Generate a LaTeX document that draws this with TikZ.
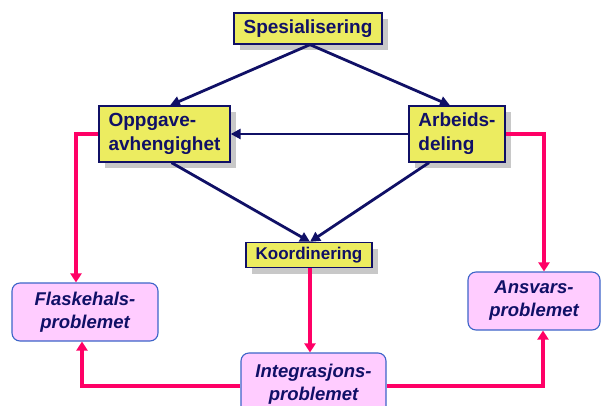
\documentclass[tikz,border=0pt]{standalone}
\usepackage{fontspec}
\setmainfont{Liberation Sans}
\usetikzlibrary{arrows.meta,shadows,calc}
\definecolor{navy}{RGB}{16,16,102}
\definecolor{boxyellow}{RGB}{236,236,96}
\definecolor{shadowgray}{RGB}{200,200,200}
\definecolor{pinkfill}{RGB}{255,204,255}
\definecolor{pinkline}{RGB}{255,0,102}
\definecolor{blueedge}{RGB}{60,100,200}
\tikzset{
  ybox/.style={draw=navy, line width=1.3pt, fill=boxyellow, text=navy,
    font=\bfseries, inner sep=0pt,
    drop shadow={shadow xshift=6pt, shadow yshift=-6pt, fill=shadowgray, opacity=1}},
  pbox/.style={draw=blueedge, line width=1.1pt, fill=pinkfill, text=navy,
    font=\bfseries\itshape\fontsize{18.5}{23}\selectfont, rounded corners=8pt,
    align=center, inner sep=0pt},
  darrow/.style={draw=navy, line width=2.8pt, -{Triangle[length=10pt,width=10pt]}},
  parrow/.style={draw=pinkline, line width=3.2pt, -{Triangle[length=9pt,width=11pt]}}
}
\begin{document}
\begin{tikzpicture}[x=1pt,y=-1pt]
\useasboundingbox (0,0) rectangle (603,405);

% yellow boxes
\node[ybox, minimum width=148pt, minimum height=31pt, font=\bfseries\fontsize{19}{24}\selectfont]
  (spes) at (308,28.5) {Spesialisering};
\node[ybox, minimum width=131pt, minimum height=56pt, align=left, font=\bfseries\fontsize{19}{24}\selectfont]
  (opp) at (164.5,134) {Oppgave-\\avhengighet};
\node[ybox, minimum width=96pt, minimum height=56pt, align=left, font=\bfseries\fontsize{19}{24}\selectfont]
  (arb) at (457,134) {Arbeids-\\deling\phantom{s}};
\node[ybox, minimum width=126pt, minimum height=25pt, font=\bfseries\fontsize{17}{20}\selectfont]
  (koord) at (309,255) {Koordinering};

% problem boxes
\node[pbox, minimum width=146pt, minimum height=58pt] (flask) at (85,312) {Flaskehals-\\problemet};
\node[pbox, minimum width=132pt, minimum height=58pt] (ansv) at (534,301) {Ansvars-\\problemet};
\node[pbox, minimum width=145pt, minimum height=62pt] (integ) at (313.5,384) {Integrasjons-\\problemet};

% dark connectors
\draw[darrow] ([xshift=2pt]spes.south) -- ([xshift=5.5pt]opp.north);
\draw[darrow] ([xshift=2pt]spes.south) -- ([xshift=-7pt]arb.north);
\draw[darrow] (arb.west) -- (opp.east);
\draw[darrow] ([xshift=7pt]opp.south) -- ([xshift=1pt]koord.north);
\draw[darrow] ([xshift=-28pt]arb.south) -- ([xshift=1pt]koord.north);

% pink connectors
\coordinate (fl-in) at ([xshift=-9pt]flask.north);
\coordinate (an-in) at ([xshift=10pt]ansv.north);
\coordinate (fl-up) at ([xshift=-3pt]flask.south);
\coordinate (an-up) at ([xshift=9pt]ansv.south);
\draw[parrow] (opp.west) -| (fl-in);
\draw[parrow] (arb.east) -| (an-in);
\draw[parrow] ([xshift=1pt]koord.south) -- ([xshift=1pt]koord.south |- integ.north);
\draw[parrow] ([yshift=-2pt]integ.west) -| (fl-up);
\draw[parrow] ([yshift=-2pt]integ.east) -| (an-up);
\end{tikzpicture}
\end{document}
